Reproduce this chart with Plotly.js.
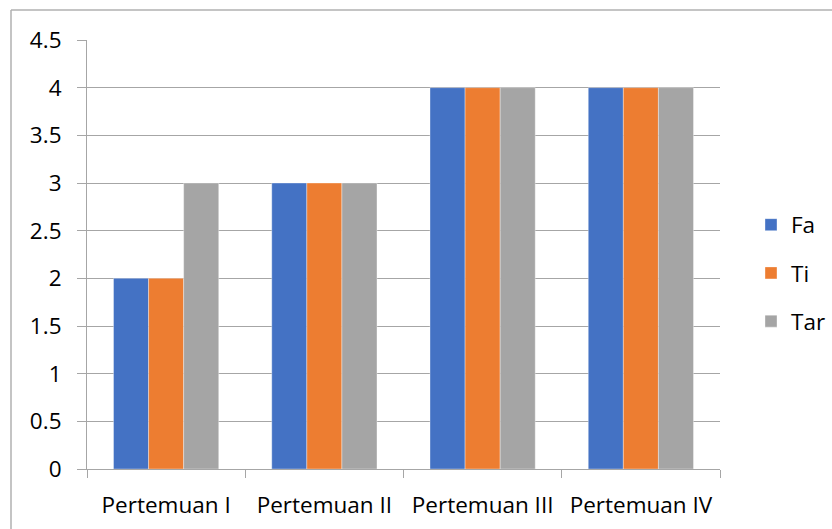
<!DOCTYPE html>
<html>
<head>
<meta charset="utf-8">
<script src="https://cdn.plot.ly/plotly-3.0.1.min.js"></script>
<style>html,body{margin:0;padding:0;background:#fff;}#chart{width:832px;height:529px;}</style>
</head>
<body>
<div id="chart"></div>
<script>
const categories = ["Pertemuan I", "Pertemuan II", "Pertemuan III", "Pertemuan IV"];
const seriesNames = ["Fa", "Ti", "Tar"];
const fa = [2, 3, 4, 4];
const ti = [2, 3, 4, 4];
const tar = [3, 3, 4, 4];
const colors = ["#4472C4", "#ED7D31", "#A5A5A5"];

const values = [fa, ti, tar];
const traces = values.map((v, i) => ({
  type: "bar",
  name: seriesNames[i],
  x: categories,
  y: v,
  legendgroup: "g" + i,
  marker: {color: colors[i], line: {color: "rgba(255,255,255,0.6)", width: 0.6}},
  hoverinfo: "x+y+name"
}));

const W = 832, H = 529, L = 87, R = 112, T = 40, B = 60;
const pw = W - L - R, ph = H - T - B;
const px = (p) => (p - L) / pw;
const py = (p) => (H - B - p) / ph;

const layout = {
  width: W, height: H,
  margin: {l: L, r: R, t: T, b: B, pad: 0, autoexpand: false},
  paper_bgcolor: "#fff", plot_bgcolor: "#fff",
  font: {family: "'Open Sans', 'Noto Sans', sans-serif", size: 22.5, color: "#000"},
  barmode: "group",
  bargap: 0.335,
  bargroupgap: 0,
  showlegend: true,
  legend: {
    x: px(751), y: py(273), xanchor: "left", yanchor: "middle",
    traceorder: "grouped", tracegroupgap: 16,
    font: {size: 22.5, color: "#000"},
    itemwidth: 30
  },
  xaxis: {
    type: "category",
    tickson: "boundaries",
    ticks: "outside", ticklen: 8, tickcolor: "#a6a6a6", tickwidth: 1,
    showline: true, linecolor: "#a6a6a6", linewidth: 1,
    showgrid: false, zeroline: false,
    ticklabelstandoff: 16,
    fixedrange: true
  },
  yaxis: {
    range: [0, 4.5], dtick: 0.5, tick0: 0,
    ticks: "outside", ticklen: 9, tickcolor: "#a6a6a6", tickwidth: 1,
    showline: true, linecolor: "#a6a6a6", linewidth: 1,
    showgrid: true, gridcolor: "#a6a6a6", gridwidth: 1,
    zeroline: false,
    ticklabelstandoff: 11,
    fixedrange: true
  },
  shapes: [
    {type: "line", xref: "paper", yref: "paper", x0: px(11), x1: px(W + 5), y0: py(10), y1: py(10), line: {color: "#b0b0b0", width: 1.5}},
    {type: "line", xref: "paper", yref: "paper", x0: px(11), x1: px(11), y0: py(10), y1: py(H + 5), line: {color: "#b0b0b0", width: 1.5}}
  ]
};

Plotly.newPlot("chart", traces, layout, {displayModeBar: false, staticPlot: true});
</script>
</body>
</html>
